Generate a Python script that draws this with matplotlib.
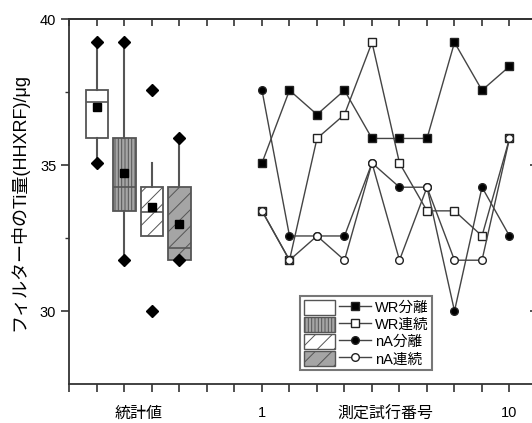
import numpy as np
import matplotlib
matplotlib.use("Agg")
import matplotlib.pyplot as plt
from matplotlib.patches import Patch
from matplotlib.lines import Line2D
from matplotlib.legend_handler import HandlerTuple

plt.rcParams['font.family'] = ['Liberation Sans', 'Noto Sans CJK JP']
plt.rcParams['hatch.linewidth'] = 0.7

# 試行番号 1-10 の Ti 量 (μg)
trials = np.arange(1, 11)
wr_bunri = np.array([35.07, 37.56, 36.73, 37.56, 35.91, 35.91, 35.91, 39.20, 37.56, 38.38])
wr_renzoku = np.array([33.43, 31.74, 35.91, 36.73, 39.20, 35.07, 33.43, 33.43, 32.57, 35.91])
na_bunri = np.array([37.56, 32.57, 32.57, 32.57, 35.07, 34.24, 34.24, 30.00, 34.24, 32.57])
na_renzoku = np.array([33.43, 31.74, 32.57, 31.74, 35.07, 31.74, 34.24, 31.74, 31.74, 35.91])

names = ['WR分離', 'WR連続', 'nA分離', 'nA連続']
series = [wr_bunri, wr_renzoku, na_bunri, na_renzoku]
box_face = ['white', '#a5a5a5', 'white', '#a5a5a5']
box_hatch = [None, '|||||', '//', '//']
markers = ['s', 's', 'o', 'o']
marker_face = ['black', 'white', 'black', 'white']

box_pos = [1, 2, 3, 4]
x_offset = 6  # 試行番号 n は x = n + 6 の位置

xtick_pos = [2.5, 7, 11.5, 16]
xtick_lab = ['統計値', '1', '測定試行番号', '10']

EDGE = '#555555'
LINE = '#444444'


def box_stats(v):
    s = np.sort(v)
    q1, q3 = np.percentile(s, [25, 75], method='nearest')
    iqr = q3 - q1
    lo = s[s >= q1 - 1.5 * iqr].min()
    hi = s[s <= q3 + 1.5 * iqr].max()
    return dict(med=np.median(s), q1=q1, q3=q3, whislo=lo, whishi=hi,
                mean=s.mean(), fliers=[])


fig = plt.figure(figsize=(5.32, 4.23), dpi=100)
ax = fig.add_axes([0.1306, 0.0922, 0.8788, 0.8628])

bp = ax.bxp([box_stats(v) for v in series], positions=box_pos, widths=0.82,
            patch_artist=True, showcaps=False, showmeans=True, showfliers=False,
            meanprops=dict(marker='s', markerfacecolor='black', markeredgecolor='black', markersize=5.5),
            medianprops=dict(color=EDGE, lw=1.2),
            whiskerprops=dict(color=EDGE, lw=1.5),
            boxprops=dict(edgecolor=EDGE, lw=1.3))
for patch, fc, h in zip(bp['boxes'], box_face, box_hatch):
    patch.set_facecolor(fc)
    patch.set_hatch(h)

# 最大値・最小値
ax.plot(box_pos, [v.max() for v in series], 'D', color='black', ms=6, zorder=4)
ax.plot(box_pos, [v.min() for v in series], 'D', color='black', ms=6, zorder=4)

for v, m, mf in zip(series, markers, marker_face):
    ax.plot(trials + x_offset, v, color=LINE, lw=1.0, marker=m, mfc=mf, mec='#222222',
            ms=5.5, mew=1.0, zorder=3)

ax.set_xlim(0, 17)
ax.set_ylim(27.5, 40)

for side in ['left', 'bottom', 'top']:
    ax.spines[side].set_color('#333333')
    ax.spines[side].set_linewidth(1.3)
ax.spines['right'].set_visible(False)

ax.set_xticks(np.arange(0, 18))
ax.tick_params(axis='x', which='major', direction='out', length=6, width=1.2,
               color='#333333', labelbottom=False, top=False)
ax.xaxis.remove_overlapping_locs = False
ax.set_xticks(xtick_pos, xtick_lab, minor=True)
ax.tick_params(axis='x', which='minor', length=0, pad=16, labelsize=11.5)
for t in ax.get_xticklabels(minor=True):
    if t.get_text().isdigit():
        t.set_fontsize(10.5)

ax.set_yticks([30, 35, 40])
ax.set_yticks([32.5, 37.5], minor=True)
ax.tick_params(axis='y', which='major', direction='out', length=6, width=1.2,
               color='#333333', labelsize=10.5, right=False)
ax.tick_params(axis='y', which='minor', direction='out', length=3, width=1.0,
               color='#333333', right=False)

top = ax.secondary_xaxis('top')
top.set_xticks(np.arange(0, 18))
top.tick_params(direction='in', length=5, width=1.2, color='#333333', labeltop=False)
top.spines['top'].set_linewidth(1.3)
top.spines['top'].set_color('#333333')

right = ax.secondary_yaxis('right')
right.set_yticks([30, 35, 40])
right.tick_params(direction='in', length=5, width=1.2, color='#333333', labelright=False)

ax.set_ylabel('フィルター中のTi量(HHXRF)/μg', fontsize=13, labelpad=8)

handles = []
for fc, h, m, mf in zip(box_face, box_hatch, markers, marker_face):
    p = Patch(facecolor=fc, edgecolor=EDGE, hatch=h, lw=1.0)
    ln = Line2D([], [], color=LINE, lw=1.0, marker=m, mfc=mf, mec='#222222', ms=5.5)
    handles.append((p, ln))
leg = ax.legend(handles, names, handler_map={tuple: HandlerTuple(ndivide=None, pad=0.3)},
                loc='lower left', bbox_to_anchor=(0.493, 0.038), borderaxespad=0,
                fontsize=10.5, handlelength=4.6, handleheight=1.2, labelspacing=0.12,
                handletextpad=0.3, borderpad=0.25, fancybox=False, edgecolor='#777777',
                framealpha=1, numpoints=1)
leg.get_frame().set_linewidth(1.5)

fig.savefig('out.png', dpi=100)
